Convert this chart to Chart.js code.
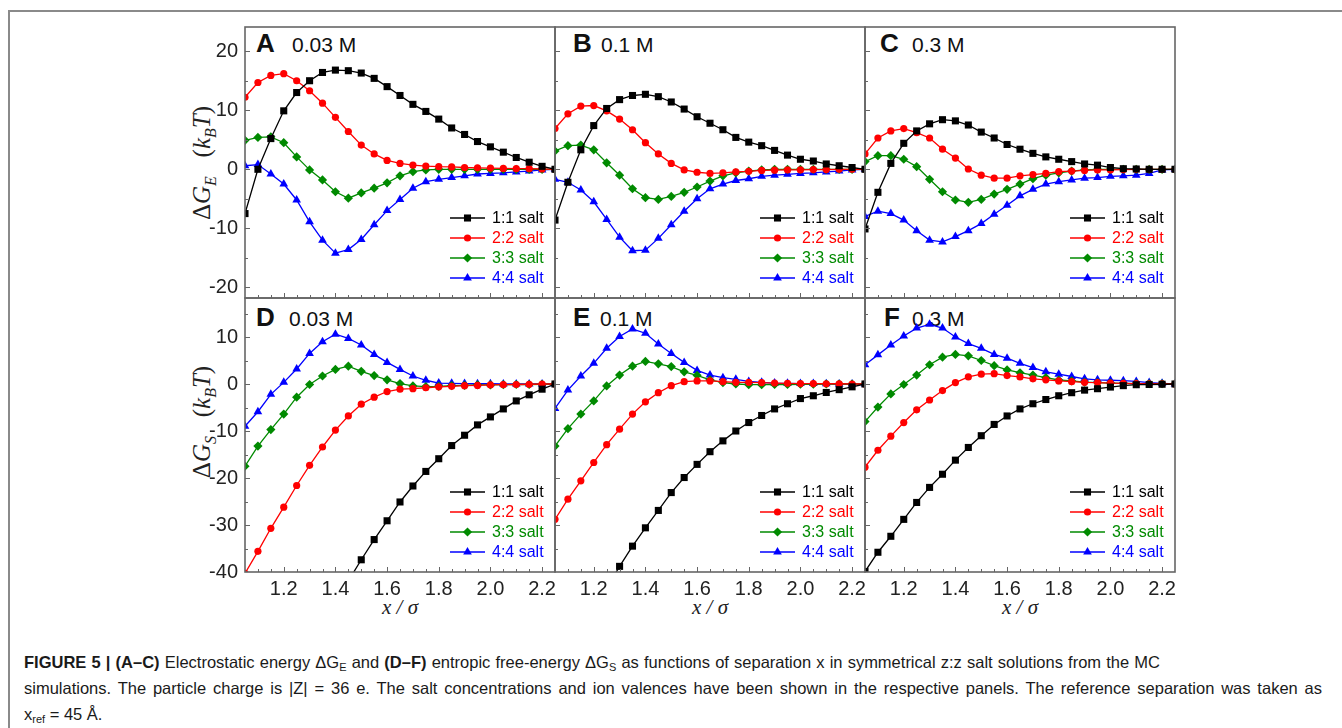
<!DOCTYPE html>
<html>
<head>
<meta charset="utf-8">
<script src="https://cdn.jsdelivr.net/npm/chart.js@4.4.1/dist/chart.umd.min.js"></script>
<style>
  body { margin: 0; background: #fff; }
  #fig { position: relative; width: 1342px; height: 728px; overflow: hidden; background: #fff; }
  #outer { position: absolute; left: 8px; top: 10px; width: 1400px; height: 800px;
           border-top: 2px solid #8a8a8a; border-left: 2px solid #8a8a8a; }
  canvas { position: absolute; }
  .let { position: absolute; font-family: "Liberation Sans", Arial, sans-serif; font-weight: bold; font-size: 26px;
         line-height: 26px; color: #111; }
  .conc { position: absolute; font-family: "Liberation Sans", Arial, sans-serif; font-size: 21px;
          line-height: 21px; color: #111; white-space: nowrap; }
  .ytitle { position: absolute; font-family: "Liberation Serif", "Times New Roman", serif; font-size: 25px; color: #222;
            white-space: nowrap; transform: translate(-50%, -50%) rotate(-90deg); }
  .ytitle sub { font-size: 16px; }
  .xtitle { position: absolute; font-family: "Liberation Serif", "Times New Roman", serif; font-style: italic; font-size: 21px;
            color: #222; white-space: nowrap; transform: translate(-50%, -50%); }
  .cap { position: absolute; left: 24px; font-family: "Liberation Sans", Arial, sans-serif; font-size: 16.5px;
         line-height: 20px; height: 20px; color: #1a1a1a; white-space: nowrap; text-align: justify; text-align-last: justify; }
  .cap sub { font-size: 11px; line-height: 0; vertical-align: -0.3em; }
</style>
</head>
<body>
<div id="fig">
  <div id="outer"></div>

  <div class="let" style="left:256px;top:30px">A</div><div class="conc" style="left:292px;top:34px">0.03 M</div>
  <div class="let" style="left:573px;top:30px">B</div><div class="conc" style="left:601px;top:34px">0.1 M</div>
  <div class="let" style="left:880px;top:30px">C</div><div class="conc" style="left:912px;top:34px">0.3 M</div>
  <div class="let" style="left:256px;top:304px">D</div><div class="conc" style="left:289px;top:308px">0.03 M</div>
  <div class="let" style="left:573px;top:304px">E</div><div class="conc" style="left:600px;top:308px">0.1 M</div>
  <div class="let" style="left:884px;top:304px">F</div><div class="conc" style="left:912px;top:308px">0.3 M</div>

  <div class="ytitle" style="left:204px;top:163px">&Delta;<i>G<sub>E</sub></i>&nbsp;&nbsp;&nbsp;(<i>k<sub>B</sub>T</i>)</div>
  <div class="ytitle" style="left:204px;top:422px">&Delta;<i>G<sub>S</sub></i>&nbsp;&nbsp;&nbsp;(<i>k<sub>B</sub>T</i>)</div>

  <div class="xtitle" style="left:400px;top:607px">x / &sigma;</div>
  <div class="xtitle" style="left:710px;top:607px">x / &sigma;</div>
  <div class="xtitle" style="left:1020px;top:607px">x / &sigma;</div>

  <div class="cap" style="top:652px;width:1136px"><b>FIGURE 5 | (A–C)</b> Electrostatic energy ΔG<sub>E</sub> and <b>(D–F)</b> entropic free-energy ΔG<sub>S</sub> as functions of separation x in symmetrical z:z salt solutions from the MC</div>
  <div class="cap" style="top:678px;width:1298px">simulations. The particle charge is |Z| = 36 e. The salt concentrations and ion valences have been shown in the respective panels. The reference separation was taken as</div>
  <div class="cap" style="top:704px;text-align:left;text-align-last:auto">x<sub>ref</sub> = 45 Å.</div>
</div>

<script>
// separation x/sigma, same for every panel
const separation = [1.05, 1.10, 1.15, 1.20, 1.25, 1.30, 1.35, 1.40, 1.45, 1.50, 1.55, 1.60, 1.65,
                    1.70, 1.75, 1.80, 1.85, 1.90, 1.95, 2.00, 2.05, 2.10, 2.15, 2.20, 2.25];
const saltLabels = ['1:1 salt', '2:2 salt', '3:3 salt', '4:4 salt'];
const xTickLabels = [1.2, 1.4, 1.6, 1.8, 2.0, 2.2];
const yTicksE = [-20, -10, 0, 10, 20];
const yTicksS = [-40, -30, -20, -10, 0, 10];

// (A) dG_E, 0.03 M
const A_11 = [-7.5, 0.0, 5.2, 9.9, 13.0, 15.0, 16.4, 16.8, 16.7, 16.3, 15.4, 14.0, 12.5, 11.0, 9.8, 8.5, 7.0, 5.9, 4.7, 3.8, 2.9, 2.0, 1.2, 0.5, 0.0];
const A_22 = [12.2, 14.7, 15.9, 16.2, 15.0, 13.3, 11.2, 8.8, 6.4, 4.1, 2.6, 1.5, 1.0, 0.7, 0.55, 0.45, 0.4, 0.3, 0.25, 0.2, 0.15, 0.1, 0.1, 0.05, 0.0];
const A_33 = [4.9, 5.4, 5.5, 4.5, 2.1, -0.1, -1.8, -3.8, -4.9, -4.0, -3.2, -2.3, -1.1, -0.4, -0.1, 0.0, 0.0, 0.0, 0.0, 0.0, 0.0, 0.0, 0.0, 0.0, 0.0];
const A_44 = [0.6, 0.8, -0.8, -2.5, -5.2, -8.9, -12.0, -14.2, -13.6, -11.9, -9.4, -7.0, -5.1, -3.2, -2.1, -1.7, -1.4, -1.1, -0.8, -0.7, -0.6, -0.45, -0.3, -0.1, 0.0];
// (B) dG_E, 0.1 M
const B_11 = [-8.6, -2.2, 3.3, 7.4, 10.3, 11.8, 12.5, 12.7, 12.3, 11.4, 10.2, 8.9, 7.8, 6.7, 5.4, 4.6, 4.0, 3.2, 2.4, 1.7, 1.4, 0.9, 0.6, 0.3, 0.0];
const B_22 = [6.9, 9.4, 10.7, 10.8, 9.9, 8.5, 6.7, 4.5, 2.6, 1.0, -0.1, -0.5, -0.7, -0.6, -0.45, -0.35, -0.2, -0.15, -0.1, -0.1, -0.05, -0.05, 0.0, 0.0, 0.0];
const B_33 = [3.1, 4.0, 4.1, 3.3, 1.1, -1.0, -3.3, -4.8, -5.1, -4.6, -3.9, -3.0, -2.0, -1.1, -0.6, -0.3, -0.1, 0.0, 0.0, 0.0, 0.0, 0.0, 0.0, 0.0, 0.0];
const B_44 = [-1.7, -2.2, -3.5, -5.5, -8.5, -11.5, -13.8, -13.7, -11.7, -9.4, -7.1, -5.0, -3.3, -2.5, -1.9, -1.6, -1.2, -1.0, -0.85, -0.7, -0.6, -0.45, -0.3, -0.1, 0.0];
// (C) dG_E, 0.3 M
const C_11 = [-10.1, -3.9, 1.0, 4.4, 6.5, 7.7, 8.4, 8.2, 7.5, 6.3, 5.3, 4.2, 3.4, 2.7, 2.1, 1.7, 1.3, 0.9, 0.7, 0.3, 0.1, 0.05, 0.0, 0.0, 0.0];
const C_22 = [2.6, 5.3, 6.5, 6.9, 6.2, 5.3, 3.4, 1.9, 0.05, -1.0, -1.5, -1.5, -1.1, -0.9, -0.7, -0.4, -0.3, -0.2, -0.1, -0.1, -0.05, 0.0, 0.0, 0.0, 0.0];
const C_33 = [1.3, 2.3, 2.3, 1.7, 0.45, -1.7, -3.8, -5.2, -5.6, -5.1, -4.2, -3.4, -2.5, -1.6, -1.0, -0.6, -0.3, -0.1, 0.0, 0.0, 0.0, 0.0, 0.0, 0.0, 0.0];
const C_44 = [-8.0, -7.1, -7.5, -8.6, -10.4, -12.0, -12.3, -11.4, -10.4, -9.2, -7.6, -6.1, -4.5, -3.4, -2.5, -2.1, -1.8, -1.5, -1.4, -1.2, -1.1, -1.0, -0.7, -0.1, 0.0];
// (D) dG_S, 0.03 M  (1:1 below the axis range at small x)
const D_11 = [null, null, null, null, null, null, null, null, -41.9, -37.4, -33.1, -29.1, -25.1, -21.7, -18.6, -15.9, -13.1, -10.9, -8.7, -7.0, -5.3, -3.6, -2.3, -1.1, 0.0];
const D_22 = [-40.3, -35.6, -30.7, -26.2, -21.6, -17.3, -13.4, -9.8, -6.8, -4.3, -2.8, -1.6, -1.1, -1.0, -0.8, -0.6, -0.5, -0.35, -0.3, -0.2, -0.15, -0.1, -0.05, 0.0, 0.0];
const D_33 = [-17.5, -13.2, -9.7, -6.4, -2.8, -0.1, 1.7, 3.1, 3.8, 2.7, 1.8, 0.9, 0.1, -0.4, -0.55, -0.5, -0.35, -0.3, -0.2, -0.2, -0.15, -0.1, -0.1, -0.05, 0.0];
const D_44 = [-9.0, -5.9, -2.2, 0.35, 3.2, 6.5, 9.0, 10.6, 9.7, 8.3, 6.3, 4.6, 3.1, 1.7, 0.8, 0.2, 0.15, 0.1, 0.05, 0.05, 0.0, 0.0, 0.0, 0.0, 0.0];
// (E) dG_S, 0.1 M
const E_11 = [null, null, null, null, -43.5, -38.8, -34.5, -30.6, -26.9, -23.1, -19.9, -17.1, -14.4, -12.1, -10.0, -8.2, -6.7, -5.3, -4.2, -3.1, -2.5, -1.8, -1.2, -0.6, 0.0];
const E_22 = [-28.8, -24.5, -20.6, -16.7, -12.9, -9.6, -6.4, -3.8, -1.85, -0.35, 0.5, 0.65, 0.65, 0.5, 0.35, 0.35, 0.3, 0.2, 0.15, 0.1, 0.1, 0.05, 0.05, 0.0, 0.0];
const E_33 = [-13.2, -9.5, -6.4, -3.6, -0.4, 1.9, 3.8, 4.8, 4.3, 3.7, 2.6, 1.85, 0.9, 0.3, 0.0, -0.15, -0.15, -0.1, -0.1, -0.05, -0.05, 0.0, 0.0, 0.0, 0.0];
const E_44 = [-5.2, -1.3, 1.7, 4.4, 7.6, 10.1, 11.7, 10.8, 8.5, 6.5, 4.6, 2.9, 1.9, 1.35, 1.0, 0.55, 0.35, 0.2, 0.15, 0.1, 0.1, 0.05, 0.0, 0.0, 0.0];
// (F) dG_S, 0.3 M
const F_11 = [-39.9, -35.8, -32.4, -28.8, -25.2, -22.0, -19.2, -16.2, -13.5, -11.0, -8.6, -6.8, -5.3, -4.2, -3.3, -2.5, -1.85, -1.3, -1.0, -0.65, -0.35, -0.15, -0.1, -0.05, 0.0];
const F_22 = [-17.7, -14.1, -11.1, -8.2, -5.5, -3.4, -1.4, 0.3, 1.5, 2.1, 2.2, 1.8, 1.5, 1.1, 0.9, 0.65, 0.5, 0.35, 0.3, 0.2, 0.15, 0.1, 0.05, 0.05, 0.0];
const F_33 = [-8.0, -4.9, -2.1, -0.1, 1.9, 4.1, 5.7, 6.3, 6.0, 5.0, 3.9, 3.0, 2.4, 1.9, 1.35, 0.85, 0.65, 0.4, 0.3, 0.2, 0.15, 0.1, 0.05, 0.05, 0.0];
const F_44 = [4.1, 6.2, 8.3, 10.2, 11.9, 12.7, 11.9, 10.0, 8.6, 7.6, 6.3, 5.5, 4.4, 3.5, 2.6, 2.1, 1.6, 1.1, 0.9, 0.8, 0.7, 0.55, 0.3, 0.15, 0.0];

const colors = ['#000000', '#ff0000', '#008a00', '#0000ff'];
const markers = ['rect', 'circle', 'rectRot', 'triangle'];
const markerSize = [5, 3.6, 4.6, 5];

// plot-area edges in page pixels
const cols = [{ l: 245, r: 555 }, { l: 555, r: 865 }, { l: 865, r: 1175 }];
const rows = [{ t: 27, b: 298, min: -21.8, max: 24.1, ticks: yTicksE },
              { t: 298, b: 572, min: -40, max: 18.3, ticks: yTicksS }];
const PAD_L = 70, PAD_R = 14, PAD_T = 30, PAD_B = 40;
const tickFont = { family: '"Liberation Sans", Arial, sans-serif', size: 20 };

function drawMarker(ctx, style, r, x, y) {
  ctx.beginPath();
  if (style === 'rect') {
    const s = r * Math.SQRT1_2;
    ctx.rect(x - s, y - s, 2 * s, 2 * s);
  } else if (style === 'circle') {
    ctx.arc(x, y, r, 0, Math.PI * 2);
  } else if (style === 'rectRot') {
    ctx.moveTo(x, y - r); ctx.lineTo(x + r, y); ctx.lineTo(x, y + r); ctx.lineTo(x - r, y);
  } else {
    ctx.moveTo(x, y - r);
    ctx.lineTo(x + Math.sin(2 * Math.PI / 3) * r, y + 0.5 * r);
    ctx.lineTo(x - Math.sin(2 * Math.PI / 3) * r, y + 0.5 * r);
  }
  ctx.closePath();
  ctx.fill();
}

// box + inward ticks, like the Origin frame
const framePlugin = {
  id: 'frame',
  afterDatasetsDraw(chart) {
    const { ctx, chartArea: a, scales: { x, y } } = chart;
    ctx.save();
    ctx.strokeStyle = '#666';
    ctx.lineWidth = 1;
    for (let i = 1; i < separation.length - 1; i++) {
      const v = separation[i];
      const major = xTickLabels.some(t => Math.abs(t - v) < 1e-6);
      const px = Math.round(x.getPixelForValue(v)) + 0.5;
      ctx.beginPath();
      ctx.moveTo(px, a.bottom);
      ctx.lineTo(px, a.bottom - (major ? 5 : 3));
      ctx.stroke();
    }
    for (let v = Math.ceil(y.min / 5) * 5; v < y.max; v += 5) {
      const py = Math.round(y.getPixelForValue(v)) + 0.5;
      if (py <= a.top + 1 || py >= a.bottom - 1) continue;
      ctx.beginPath();
      ctx.moveTo(a.left, py);
      ctx.lineTo(a.left + (v % 10 === 0 ? 5 : 3), py);
      ctx.stroke();
    }
    ctx.lineWidth = 1.6;
    ctx.strokeRect(a.left, a.top, a.width, a.height);
    ctx.restore();
  }
};

// legend inside the lower right corner
const legendPlugin = {
  id: 'insideLegend',
  afterDatasetsDraw(chart) {
    const { ctx, chartArea: a } = chart;
    ctx.save();
    ctx.font = '16px "Liberation Sans", Arial, sans-serif';
    ctx.textBaseline = 'middle';
    chart.data.datasets.forEach((ds, i) => {
      const y = a.bottom - 80 + i * 20;
      ctx.strokeStyle = ds.borderColor;
      ctx.fillStyle = ds.borderColor;
      ctx.lineWidth = 1.3;
      ctx.beginPath();
      ctx.moveTo(a.right - 105, y);
      ctx.lineTo(a.right - 70, y);
      ctx.stroke();
      drawMarker(ctx, ds.pointStyle, ds.pointRadius, a.right - 87.5, y);
      ctx.fillText(ds.label, a.right - 63, y + 1);
    });
    ctx.restore();
  }
};

function makePanel(series, ci, ri) {
  const col = cols[ci], row = rows[ri];
  const canvas = document.createElement('canvas');
  canvas.width = col.r - col.l + PAD_L + PAD_R;
  canvas.height = row.b - row.t + PAD_T + PAD_B;
  canvas.style.left = (col.l - PAD_L) + 'px';
  canvas.style.top = (row.t - PAD_T) + 'px';
  document.getElementById('fig').appendChild(canvas);

  new Chart(canvas.getContext('2d'), {
    type: 'line',
    data: {
      datasets: series.map((vals, i) => ({
        label: saltLabels[i],
        data: separation.map((x, j) => ({ x: x, y: vals[j] })),
        borderColor: colors[i],
        backgroundColor: colors[i],
        borderWidth: 1.3,
        pointStyle: markers[i],
        pointRadius: markerSize[i],
        pointBorderWidth: 0,
        tension: 0
      }))
    },
    options: {
      responsive: false,
      animation: false,
      events: [],
      layout: { padding: { top: PAD_T, right: PAD_R, left: 0, bottom: 0 } },
      plugins: { legend: { display: false }, tooltip: { enabled: false } },
      scales: {
        x: {
          type: 'linear', min: 1.05, max: 2.25,
          afterBuildTicks: s => { s.ticks = xTickLabels.map(v => ({ value: v })); },
          afterFit: s => { s.height = PAD_B; },
          grid: { display: false, drawTicks: false },
          border: { display: false },
          ticks: { display: ri === 1, font: tickFont, color: '#222', padding: 5, maxRotation: 0,
                   autoSkip: false, callback: v => v.toFixed(1) }
        },
        y: {
          min: row.min, max: row.max,
          afterBuildTicks: s => { s.ticks = row.ticks.map(v => ({ value: v })); },
          afterFit: s => { s.width = PAD_L; },
          grid: { display: false, drawTicks: false },
          border: { display: false },
          ticks: { display: ci === 0, font: tickFont, color: '#222', padding: 7 }
        }
      }
    },
    plugins: [framePlugin, legendPlugin]
  });
}

makePanel([A_11, A_22, A_33, A_44], 0, 0);
makePanel([B_11, B_22, B_33, B_44], 1, 0);
makePanel([C_11, C_22, C_33, C_44], 2, 0);
makePanel([D_11, D_22, D_33, D_44], 0, 1);
makePanel([E_11, E_22, E_33, E_44], 1, 1);
makePanel([F_11, F_22, F_33, F_44], 2, 1);
</script>
</body>
</html>
